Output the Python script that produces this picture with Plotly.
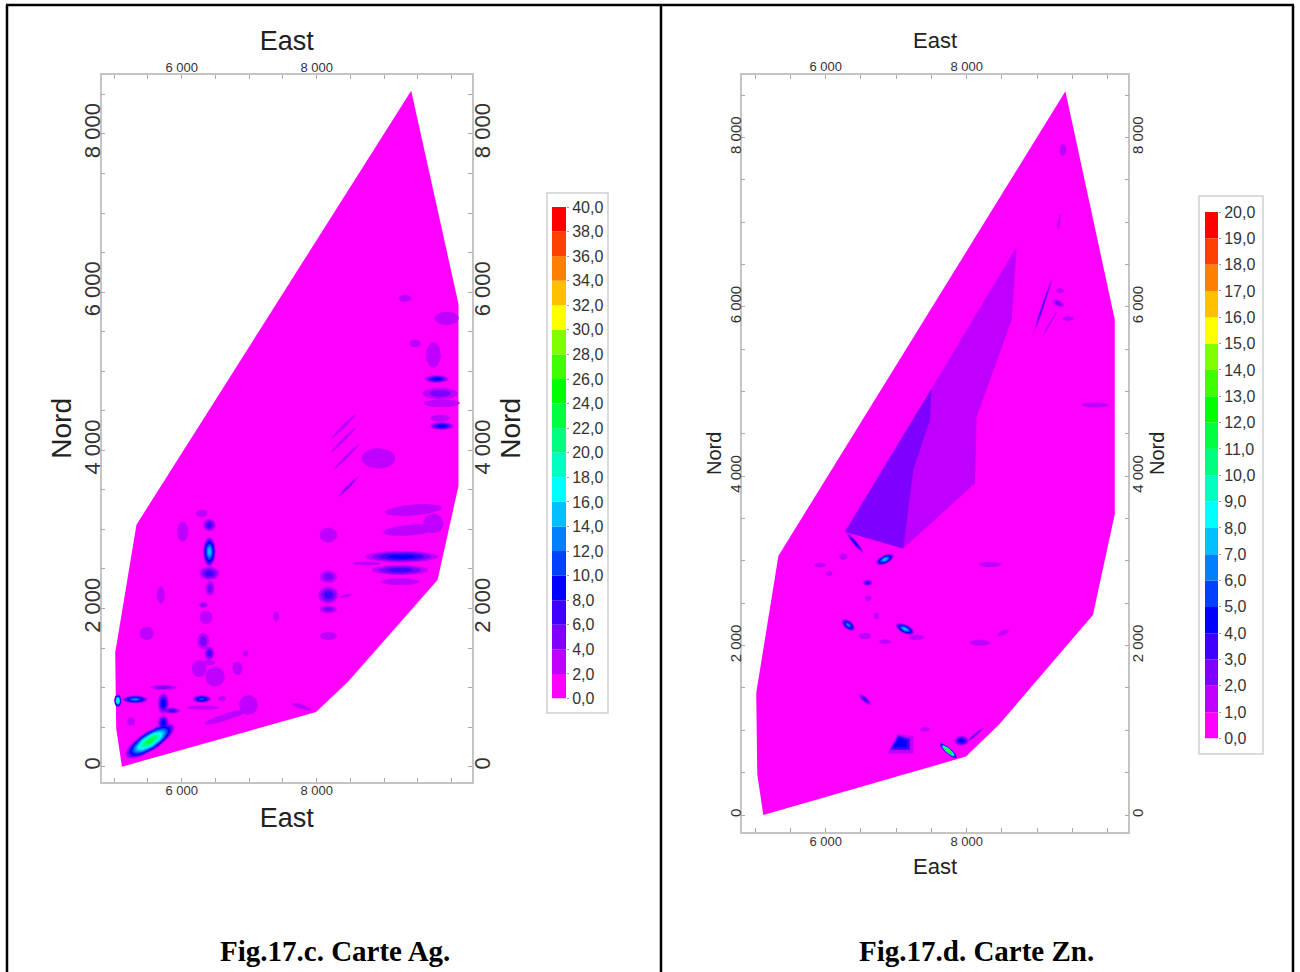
import math
import plotly.graph_objects as go

W, H = 1300, 972

# Band colours of the two legends (lowest class first)
band_colors = ["#ff00ff", "#c000ff", "#8000ff", "#4000ff", "#0000ff", "#0040ff", "#0080ff",
               "#00c0ff", "#00ffff", "#00ffc0", "#00ff80", "#00ff40", "#00ff00", "#40ff00",
               "#80ff00", "#ffff00", "#ffc000", "#ff8000", "#ff4000", "#ff0000"]
ag_levels = [2 * i for i in range(21)]
zn_levels = [i for i in range(21)]
ag_labels = [f"{v},0" for v in ag_levels]
zn_labels = [f"{v},0" for v in zn_levels]

# Limit of the mapped area (East, Nord)
outline_east = [5115, 5030, 5015, 5330, 9400, 10100, 10100, 9790, 8460, 7990, 5115]
outline_north = [0, 480, 1440, 3060, 8545, 5850, 3550, 2360, 1070, 690, 0]

# Ag anomalies: centre, half-extent, tilt, top class reached
ag_east = [6410, 6410, 6296, 6410, 6420, 6320, 6360, 6320, 6410, 6405, 6494, 6825, 6015, 5690, 5481,
           8173, 8173, 8173, 8173, 8173, 9259, 9234, 9234, 8740, 9432, 9383, 9728,
           5530, 5728, 5728, 5852, 5728, 5309, 5055, 6296, 6320, 6988, 6667, 7778,
           9777, 9827, 9852, 9852, 9827, 9926, 9308, 9457, 9728, 8913, 8395, 8395, 8444, 8469,
           6260, 6600, 5250, 8430, 7400, 6950]
ag_north = [2718, 3055, 3203, 2444, 2255, 2044, 1888, 1589, 1433, 1315, 1138, 1243, 2971, 2170, 1686,
            2929, 2402, 2170, 1989, 1652, 2655, 2486, 2339, 2570, 3245, 2992, 3076,
            325, 548, 800, 708, 1003, 851, 834, 855, 746, 780, 632, 758,
            4901, 4720, 4594, 4307, 4404, 5668, 5921, 5352, 5205, 3898, 4299, 4130, 3920, 3540,
            1240, 860, 570, 2160, 1900, 1430]
ag_half_e = [95, 95, 85, 150, 70, 65, 95, 90, 75, 95, 145, 75, 85, 60, 105,
             130, 130, 150, 130, 130, 540, 420, 280, 210, 420, 400, 150,
             410, 85, 85, 130, 200, 190, 55, 140, 240, 140, 340, 150,
             180, 260, 270, 180, 145, 180, 95, 85, 110, 250, 250, 250, 250, 200,
             110, 60, 60, 100, 45, 40]
ag_half_n = [190, 80, 50, 85, 95, 35, 85, 105, 85, 35, 125, 85, 125, 105, 85,
             95, 80, 110, 50, 50, 75, 65, 45, 25, 70, 70, 125,
             130, 105, 135, 40, 35, 50, 80, 50, 28, 125, 45, 32,
             50, 75, 50, 50, 45, 85, 45, 50, 160, 130, 22, 22, 22, 22,
             110, 35, 55, 20, 60, 40]
ag_tilt = [0, 0, 0, 0, 0, 0, 0, 0, 0, 0, 0, 0, 0, 0, 0,
           0, 0, 0, 0, 0, 0, 0, 0, 0, 4, 4, 0,
           28, 0, 0, 0, 0, 0, 0, 0, 0, 0, 15, -15,
           0, 0, 0, 0, 0, 0, 0, 0, 0, 0, 40, 40, 40, 40,
           -50, 0, 0, 10, 0, 0]
ag_top = [8, 4, 2, 4, 3, 3, 2, 3, 4, 2, 2, 2, 2, 2, 2,
          2, 3, 4, 3, 2, 5, 4, 2, 2, 2, 2, 2,
          12, 5, 5, 4, 3, 7, 11, 6, 2, 2, 2, 2,
          5, 3, 2, 5, 2, 2, 2, 2, 2, 2, 2, 2, 2, 3,
          2, 2, 2, 2, 2, 2]

# Zn plateaus (classes 1 to 4)
zn_plateau1_east = [8709, 8638, 8141, 8118, 7101, 6274, 7503]
zn_plateau1_north = [6710, 5844, 4703, 3916, 3148, 3345, 5037]
zn_plateau2_east = [7503, 7479, 7243, 7101, 6274]
zn_plateau2_north = [5037, 4663, 4073, 3148, 3345]
zn_block1_east = [6874, 7020, 7243, 7243, 6874]
zn_block1_north = [727, 960, 930, 727, 727]
zn_block3_east = [6915, 7030, 7190, 7190, 6915]
zn_block3_north = [770, 935, 900, 770, 770]
zn_block4_east = [6950, 7040, 7148, 7148, 6950]
zn_block4_north = [800, 915, 880, 800, 800]

# Zn anomalies
zn_east = [6841, 6595, 6321, 7124, 7290, 6557, 6841, 8188, 8330, 8519, 6604, 5919, 6557, 7408,
           7739, 7928, 8117, 6415, 9077, 9300, 9323, 9441, 9181, 9820, 9365, 9310, 6250, 6050, 6720]
zn_north = [3018, 2743, 2243, 2196, 2097, 2113, 2046, 2034, 2959, 2152, 2558, 2951, 1365, 1011,
            759, 877, 944, 3215, 6002, 6041, 6191, 5864, 5805, 4841, 7852, 7000, 3050, 2850, 2350]
zn_half_e = [135, 70, 105, 140, 110, 85, 85, 145, 165, 85, 50, 85, 105, 70,
             150, 105, 150, 170, 360, 85, 60, 85, 170, 190, 50, 100, 60, 50, 40]
zn_half_n = [55, 40, 55, 55, 32, 40, 28, 38, 32, 28, 32, 28, 35, 28,
             38, 60, 16, 28, 20, 40, 28, 28, 14, 32, 70, 18, 40, 28, 40]
zn_tilt = [20, 0, -30, -20, 0, 0, 0, 0, 0, 20, 0, 0, -35, 0,
           -35, 0, 35, -45, 68, -20, 0, 0, 55, 0, 0, 80, 0, 0, 0]
zn_top = [8, 4, 7, 8, 2, 2, 2, 2, 2, 2, 2, 2, 4, 2,
          15, 5, 4, 5, 4, 3, 2, 2, 2, 2, 2, 2, 2, 2, 2]

# Axis ticks
east_ticks = list(range(5000, 10001, 500))
north_ticks = list(range(0, 8501, 500))
east_text = [{6000: "6 000", 8000: "8 000"}.get(v, "") for v in east_ticks]
north_text = [f"{v // 1000} 000" if v and v % 2000 == 0 else ("0" if v == 0 else "") for v in north_ticks]


def ring(cx, cy, a, b, tilt, scale):
    t = math.radians(tilt)
    xs, ys = [], []
    for i in range(25):
        u = 2 * math.pi * i / 24
        px, py = a * scale * math.cos(u), b * scale * math.sin(u)
        xs.append(cx + px * math.cos(t) - py * math.sin(t))
        ys.append(cy + px * math.sin(t) + py * math.cos(t))
    return xs, ys


def band_traces(east, north, half_e, half_n, tilt, top, plateaus):
    xb = {k: [] for k in range(1, 20)}
    yb = {k: [] for k in range(1, 20)}
    for k, ex, ny in plateaus:
        xb[k] += ex + [ex[0], None]
        yb[k] += ny + [ny[0], None]
    for cx, cy, a, b, tl, n in zip(east, north, half_e, half_n, tilt, top):
        for k in range(1, n):
            s = (1 - (k - 1) / (n - 1)) ** 0.7
            xs, ys = ring(cx, cy, a, b, tl, s)
            xb[k] += xs + [None]
            yb[k] += ys + [None]
    return [(k, xb[k], yb[k]) for k in xb if xb[k]]


fig = go.Figure()


def fx(p):
    return p / W


def fy(p):
    return 1 - p / H


def add_map(idx, box, rng_x, rng_y, fonts, east, north, he, hn, tl, top, plateaus, standoffs, label_off):
    xfont, yfont, tfont_x, tfont_y = fonts
    ax = [f"x{idx}", f"y{idx}", f"x{idx + 1}", f"y{idx + 1}"]
    fig.add_trace(go.Scatter(x=outline_east, y=outline_north, xaxis=ax[0], yaxis=ax[1], mode="lines",
                             fill="toself", fillcolor=band_colors[0], line=dict(width=0),
                             hoverinfo="skip", showlegend=False))
    for k, xs, ys in band_traces(east, north, he, hn, tl, top, plateaus):
        fig.add_trace(go.Scatter(x=xs, y=ys, xaxis=ax[0], yaxis=ax[1], mode="lines", fill="toself",
                                 fillcolor=band_colors[k], line=dict(width=0), hoverinfo="skip",
                                 showlegend=False))
    fig.add_trace(go.Scatter(x=outline_east, y=outline_north, xaxis=ax[2], yaxis=ax[3], mode="lines",
                             line=dict(width=0), hoverinfo="skip", showlegend=False))
    l, t, r, b = box
    axis_common = dict(showgrid=False, zeroline=False, showline=True, linecolor="#c4c4c4", linewidth=1.5,
                       ticks="inside", ticklen=4, tickcolor="#a8a8a8", tickwidth=1, tickmode="array",
                       automargin=False)
    fontname = "Liberation Sans"
    xk = dict(tickvals=east_ticks, ticktext=east_text, range=rng_x, domain=[fx(l), fx(r)],
              tickfont=dict(family=fontname, size=xfont, color="#333"), **axis_common)
    yk = dict(tickvals=north_ticks, ticktext=north_text, range=rng_y, domain=[fy(b), fy(t)], tickangle=-90,
              tickfont=dict(family=fontname, size=yfont, color="#333"), **axis_common)

    def title(txt, size, so):
        return dict(text=txt, font=dict(family=fontname, size=size, color="#222"), standoff=so)

    n1 = "" if idx == 1 else str(idx)
    n2 = str(idx + 1)
    fig.layout[f"xaxis{n1}"] = dict(anchor=f"y{n1}", side="bottom", title=title("East", tfont_x, standoffs[0]),
                                    ticklabelstandoff=label_off[2], **xk)
    fig.layout[f"yaxis{n1}"] = dict(anchor=f"x{n1}", side="left", title=title("Nord", tfont_y, standoffs[1]),
                                    ticklabelstandoff=label_off[0], **yk)
    fig.layout[f"xaxis{n2}"] = dict(anchor=f"y{n2}", side="top", overlaying=f"x{n1}",
                                    title=title("East", tfont_x, standoffs[2]),
                                    ticklabelstandoff=label_off[3], **xk)
    fig.layout[f"yaxis{n2}"] = dict(anchor=f"x{n2}", side="right", overlaying=f"y{n1}",
                                    title=title("Nord", tfont_y, standoffs[3]),
                                    ticklabelstandoff=label_off[1], **yk)


add_map(1, (101.7, 75, 471.7, 781.7), [4815, 10296], [-190, 8745], (13, 22, 27, 28),
        ag_east, ag_north, ag_half_e, ag_half_n, ag_tilt, ag_top, [], (11, 0, 2, 6), (-9, -10, -4, -4))
add_map(3, (741.7, 75, 1128.3, 831.7), [4809, 10292], [-197, 8737], (13, 15, 22, 20),
        zn_east, zn_north, zn_half_e, zn_half_n, zn_tilt, zn_top,
        [(1, zn_plateau1_east, zn_plateau1_north), (2, zn_plateau2_east, zn_plateau2_north),
         (1, zn_block1_east, zn_block1_north), (3, zn_block3_east, zn_block3_north),
         (4, zn_block4_east, zn_block4_north)], (11, 0, 4, 3), (-7, -5, -3, -3))


def add_legend(idx, box, levels, labels, size):
    step = levels[1] - levels[0]
    l, t, r, b = box
    fig.add_trace(go.Bar(x=[0] * 20, y=[step] * 20, base=levels[:-1], width=1,
                         marker=dict(color=band_colors, line=dict(width=0)),
                         xaxis=f"x{idx}", yaxis=f"y{idx}", hoverinfo="skip", showlegend=False))
    fig.layout[f"xaxis{idx}"] = dict(domain=[fx(l), fx(r)], range=[-0.5, 0.5], visible=False, anchor=f"y{idx}")
    fig.layout[f"yaxis{idx}"] = dict(domain=[fy(b), fy(t)], range=[levels[0], levels[-1]], side="right",
                                     anchor=f"x{idx}", tickmode="array", tickvals=levels, ticktext=labels,
                                     ticks="outside", ticklen=2, tickcolor="#999", showgrid=False, zeroline=False,
                                     showline=False, automargin=False,
                                     tickfont=dict(family="Liberation Sans", size=size, color="#333"))


add_legend(5, (552, 207, 566, 698.5), ag_levels, ag_labels, 16)
add_legend(6, (1205, 212, 1218, 738.5), zn_levels, zn_labels, 16)

shapes = []
for x0, y0, x1, y1 in [(547, 193, 608, 713), (1199, 196, 1263, 754)]:
    shapes.append(dict(type="rect", xref="paper", yref="paper", x0=fx(x0), x1=fx(x1), y0=fy(y0), y1=fy(y1),
                       line=dict(color="#cfcfcf", width=1.5), fillcolor="rgba(0,0,0,0)", layer="below"))
for x0, y0, x1, y1 in [(6, 5, 1294, 5), (7, 5, 7, 972), (661, 5, 661, 972), (1293, 5, 1293, 972)]:
    shapes.append(dict(type="line", xref="paper", yref="paper", x0=fx(x0), x1=fx(x1), y0=fy(y0), y1=fy(y1),
                       line=dict(color="#000", width=2.5)))

annotations = [
    dict(text="<b>Fig.17.c. Carte Ag.</b>", x=fx(334.5), y=fy(951), xref="paper", yref="paper", showarrow=False,
         xanchor="center", yanchor="middle", font=dict(family="Liberation Serif", size=29, color="#000")),
    dict(text="<b>Fig.17.d. Carte Zn.</b>", x=fx(977), y=fy(951), xref="paper", yref="paper", showarrow=False,
         xanchor="center", yanchor="middle", font=dict(family="Liberation Serif", size=29, color="#000")),
]

fig.update_layout(width=W, height=H, margin=dict(l=0, r=0, t=0, b=0, autoexpand=False), autosize=False,
                  plot_bgcolor="rgba(0,0,0,0)", paper_bgcolor="white", barmode="overlay", showlegend=False,
                  shapes=shapes, annotations=annotations)
fig.write_html("out.html", config=dict(displayModeBar=False),
               post_script="document.body.style.margin='0';")
